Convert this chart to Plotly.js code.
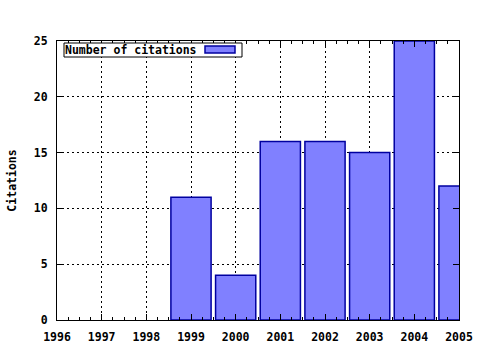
<!DOCTYPE html>
<html>
<head>
<meta charset="utf-8">
<script src="https://cdn.plot.ly/plotly-3.0.1.min.js"></script>
<style>html,body{margin:0;padding:0;background:#fff;}#chart{width:480px;height:350px;}</style>
</head>
<body>
<div id="chart"></div>
<script>
const years = [1996, 1997, 1998, 1999, 2000, 2001, 2002, 2003, 2004, 2005];
const citations = [0, 0, 0, 11, 4, 16, 16, 15, 25, 12];
const seriesName = "Number of citations";
const yTitle = "Citations";

const FONT = {family: "DejaVu Sans Mono, Liberation Mono, monospace", size: 11.5, color: "#000", weight: "bold"};
const BAR_FILL = "#8080ff";
const BAR_LINE = "#0000a0";

// plot area in pixels
const L = 57, R = 459, T = 41, B = 320, W = 480, H = 350;
const px = x => (x - L) / (R - L);
const py = y => (B - y) / (B - T);

const trace = {
  type: "bar",
  x: years,
  y: citations,
  name: seriesName,
  width: 0.9,
  marker: {color: BAR_FILL, line: {color: BAR_LINE, width: citations.map(v => v > 0 ? 1.5 : 0)}},
  showlegend: false,
  hoverinfo: "x+y"
};

const layout = {
  width: W, height: H,
  margin: {l: L, r: W - R, t: T, b: H - B, pad: 0},
  paper_bgcolor: "#fff", plot_bgcolor: "#fff",
  font: FONT,
  showlegend: false,
  xaxis: {
    range: [1996, 2005], tick0: 1996, dtick: 1, tickmode: "linear",
    showline: true, linecolor: "#000", linewidth: 1, mirror: "ticks",
    ticks: "inside", ticklen: 6, tickcolor: "#000", tickwidth: 1,
    showgrid: true, gridcolor: "#000", gridwidth: 1, griddash: "2px,3px",
    zeroline: false, tickfont: FONT, ticklabelstandoff: 6,
    minor: {dtick: 0.25, ticks: "inside", ticklen: 3, tickcolor: "#000", showgrid: false},
    fixedrange: true, automargin: false
  },
  yaxis: {
    range: [0, 25], tick0: 0, dtick: 5, tickmode: "linear",
    showline: true, linecolor: "#000", linewidth: 1, mirror: "ticks",
    ticks: "inside", ticklen: 6, tickcolor: "#000", tickwidth: 1,
    showgrid: true, gridcolor: "#000", gridwidth: 1, griddash: "2px,3px",
    zeroline: false, tickfont: FONT, ticklabelstandoff: 6,
    title: {text: yTitle, font: FONT, standoff: 14},
    fixedrange: true, automargin: false
  },
  shapes: [{
    type: "rect", xref: "paper", yref: "paper", layer: "above",
    x0: px(64), x1: px(242), y0: py(57), y1: py(43),
    fillcolor: "#fff", line: {color: "#000", width: 1}
  }, {
    type: "rect", xref: "paper", yref: "paper", layer: "above",
    x0: px(205), x1: px(235), y0: py(53), y1: py(46),
    fillcolor: BAR_FILL, line: {color: BAR_LINE, width: 1.5}
  }],
  annotations: [{
    xref: "paper", yref: "paper",
    x: px(64), y: py(50), xanchor: "left", yanchor: "middle",
    text: seriesName, showarrow: false, align: "left",
    font: FONT, borderpad: 0
  }]
};

Plotly.newPlot("chart", [trace], layout, {displayModeBar: false, staticPlot: true});
</script>
</body>
</html>
